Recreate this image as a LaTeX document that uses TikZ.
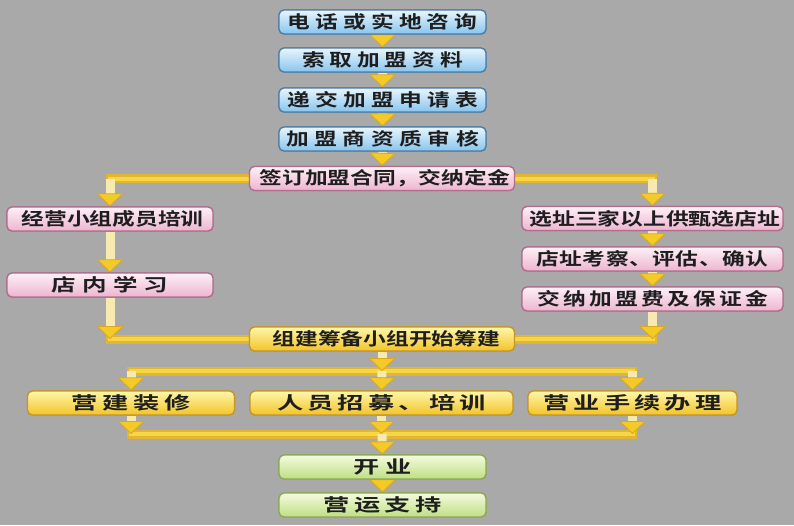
\documentclass[tikz,border=0pt]{standalone}
\usepackage{fontspec}
\usepackage{graphicx}
\newfontfamily\cjk{Noto Sans CJK SC}[BoldFont={Noto Sans CJK SC Bold}]
\usetikzlibrary{arrows.meta}
\definecolor{bgc}{RGB}{169,169,169}
\definecolor{txt}{RGB}{30,30,30}
\definecolor{bluetop}{RGB}{232,245,252}
\definecolor{bluebot}{RGB}{135,197,238}
\definecolor{blueedge}{RGB}{80,125,165}
\definecolor{pinktop}{RGB}{253,240,246}
\definecolor{pinkbot}{RGB}{238,180,208}
\definecolor{pinkedge}{RGB}{175,110,140}
\definecolor{yeltop}{RGB}{255,246,170}
\definecolor{yelbot}{RGB}{242,196,40}
\definecolor{yeledge}{RGB}{196,150,40}
\definecolor{grntop}{RGB}{245,251,222}
\definecolor{grnbot}{RGB}{190,222,130}
\definecolor{grnedge}{RGB}{140,168,85}
\definecolor{stemc}{RGB}{246,234,176}
\definecolor{barc}{RGB}{245,214,70}
\definecolor{baredge}{RGB}{226,182,50}
\definecolor{tipc}{RGB}{244,202,40}
\definecolor{tipedge}{RGB}{222,168,30}
\newlength\sptw
\makeatletter
\newcommand\spreadtxt[3][1.3]{\pgfmathsetlength\sptw{#2pt/#1}\scalebox{#1}[1]{\makebox[\sptw][s]{\let\sp@sep\relax\@tfor\sp@c:=#3\do{\sp@sep\sp@c\let\sp@sep\hfill}}}}
\makeatother
\tikzset{
  x=1pt, y=-1pt,
  box/.style={rounded corners=5pt, line width=1.3pt, minimum height=24pt,
    inner sep=0pt, text=txt, font=\cjk\bfseries\fontsize{17.5}{20}\selectfont},
  bluebox/.style={box, draw=blueedge, top color=bluetop, bottom color=bluebot, minimum width=207pt},
  pinkbox/.style={box, draw=pinkedge, top color=pinktop, bottom color=pinkbot},
  yelbox/.style={box, draw=yeledge, top color=yeltop, bottom color=yelbot},
  grnbox/.style={box, draw=grnedge, top color=grntop, bottom color=grnbot, minimum width=207pt},
  stem/.style={line width=9pt, draw=stemc,
    -{Triangle[width=27pt,length=13pt,fill=tipc,color=tipedge,line width=0.8pt]}},
  barout/.style={line width=9pt, draw=baredge, line cap=rect},
  barin/.style={line width=4pt, draw=barc, line cap=rect},
}
\newcommand\allboxes{%
\node[bluebox] (b1) at (382.5,22) {\spreadtxt{190}{电话或实地咨询}};
\node[bluebox] (b2) at (382.5,60) {\spreadtxt{161}{索取加盟资料}};
\node[bluebox] (b3) at (382.5,100) {\spreadtxt{191}{递交加盟申请表}};
\node[bluebox] (b4) at (382.5,139) {\spreadtxt{193}{加盟商资质审核}};
\node[pinkbox, minimum width=265pt] (ct) at (382,178.5) {\spreadtxt{245}{签订加盟合同，交纳定金}};
\node[pinkbox, minimum width=206pt] (l1) at (110,219) {\spreadtxt{177}{经营小组成员培训}};
\node[pinkbox, minimum width=206pt] (l2) at (110,285) {\spreadtxt[1.4]{117}{店内学习}};
\node[pinkbox, minimum width=261pt] (r1) at (652.5,218.5) {\spreadtxt{246}{选址三家以上供甄选店址}};
\node[pinkbox, minimum width=261pt] (r2) at (652.5,259) {\spreadtxt{232}{店址考察、评估、确认}};
\node[pinkbox, minimum width=261pt] (r3) at (652.5,299) {\spreadtxt{231}{交纳加盟费及保证金}};
\node[yelbox, minimum width=265pt] (zj) at (382,339) {\spreadtxt{219}{组建筹备小组开始筹建}};
\node[yelbox, minimum width=207pt] (m1) at (131,403) {\spreadtxt[1.5]{120}{营建装修}};
\node[yelbox, minimum width=263pt] (m2) at (381.5,403) {\spreadtxt[1.5]{209}{人员招募、培训}};
\node[yelbox, minimum width=209pt] (m3) at (632.5,403) {\spreadtxt[1.5]{178}{营业手续办理}};
\node[grnbox] (ky) at (382.5,467) {\spreadtxt[1.5]{58}{开业}};
\node[grnbox] (yy) at (382.5,505) {\spreadtxt[1.5]{118}{营运支持}};
}
\begin{document}
\begin{tikzpicture}
\path[fill=bgc] (0,0) rectangle (794,525);
\useasboundingbox (0,0) rectangle (794,525);

\allboxes

\coordinate (cL) at (110,178.5);
\coordinate (cR) at (652.5,178.5);
\coordinate (cL2) at (110,339);
\coordinate (cR2) at (652.5,339);
\coordinate (cM) at (382,371);
\coordinate (cB) at (382,434);

% horizontal bars
\foreach \s in {barout,barin}{
  \draw[\s] (ct.west) -- (cL);
  \draw[\s] (ct.east) -- (cR);
  \draw[\s] (cL2) -- (zj.west);
  \draw[\s] (cR2) -- (zj.east);
  \draw[\s] (m1.north |- cM) -- (m3.north |- cM);
  \draw[\s] (m1.south |- cB) -- (m3.south |- cB);
}

% stems with arrowheads
\draw[stem] (b1.south) -- (b2.north);
\draw[stem] (b2.south) -- (b3.north);
\draw[stem] (b3.south) -- (b4.north);
\draw[stem] (b4.south) -- (ct.north);
\draw[stem] (cL) -- (l1.north);
\draw[stem] (cR) -- (r1.north);
\draw[stem] (l1.south) -- (l2.north);
\draw[stem] (r1.south) -- (r2.north);
\draw[stem] (r2.south) -- (r3.north);
\draw[stem] (l2.south) -- (cL2);
\draw[stem] (r3.south) -- (cR2);
\draw[stem] (zj.south) -- (cM);
\draw[stem] (m1.north |- cM) -- (m1.north);
\draw[stem] (cM) -- (m2.north);
\draw[stem] (m3.north |- cM) -- (m3.north);
\draw[stem] (m1.south) -- (m1.south |- cB);
\draw[stem] (m2.south) -- (m2.south |- cB);
\draw[stem] (m3.south) -- (m3.south |- cB);
\draw[stem] (cB) -- (ky.north);
\draw[stem] (ky.south) -- (yy.north);

% boxes again, on top of the connectors
\allboxes
\end{tikzpicture}
\end{document}
